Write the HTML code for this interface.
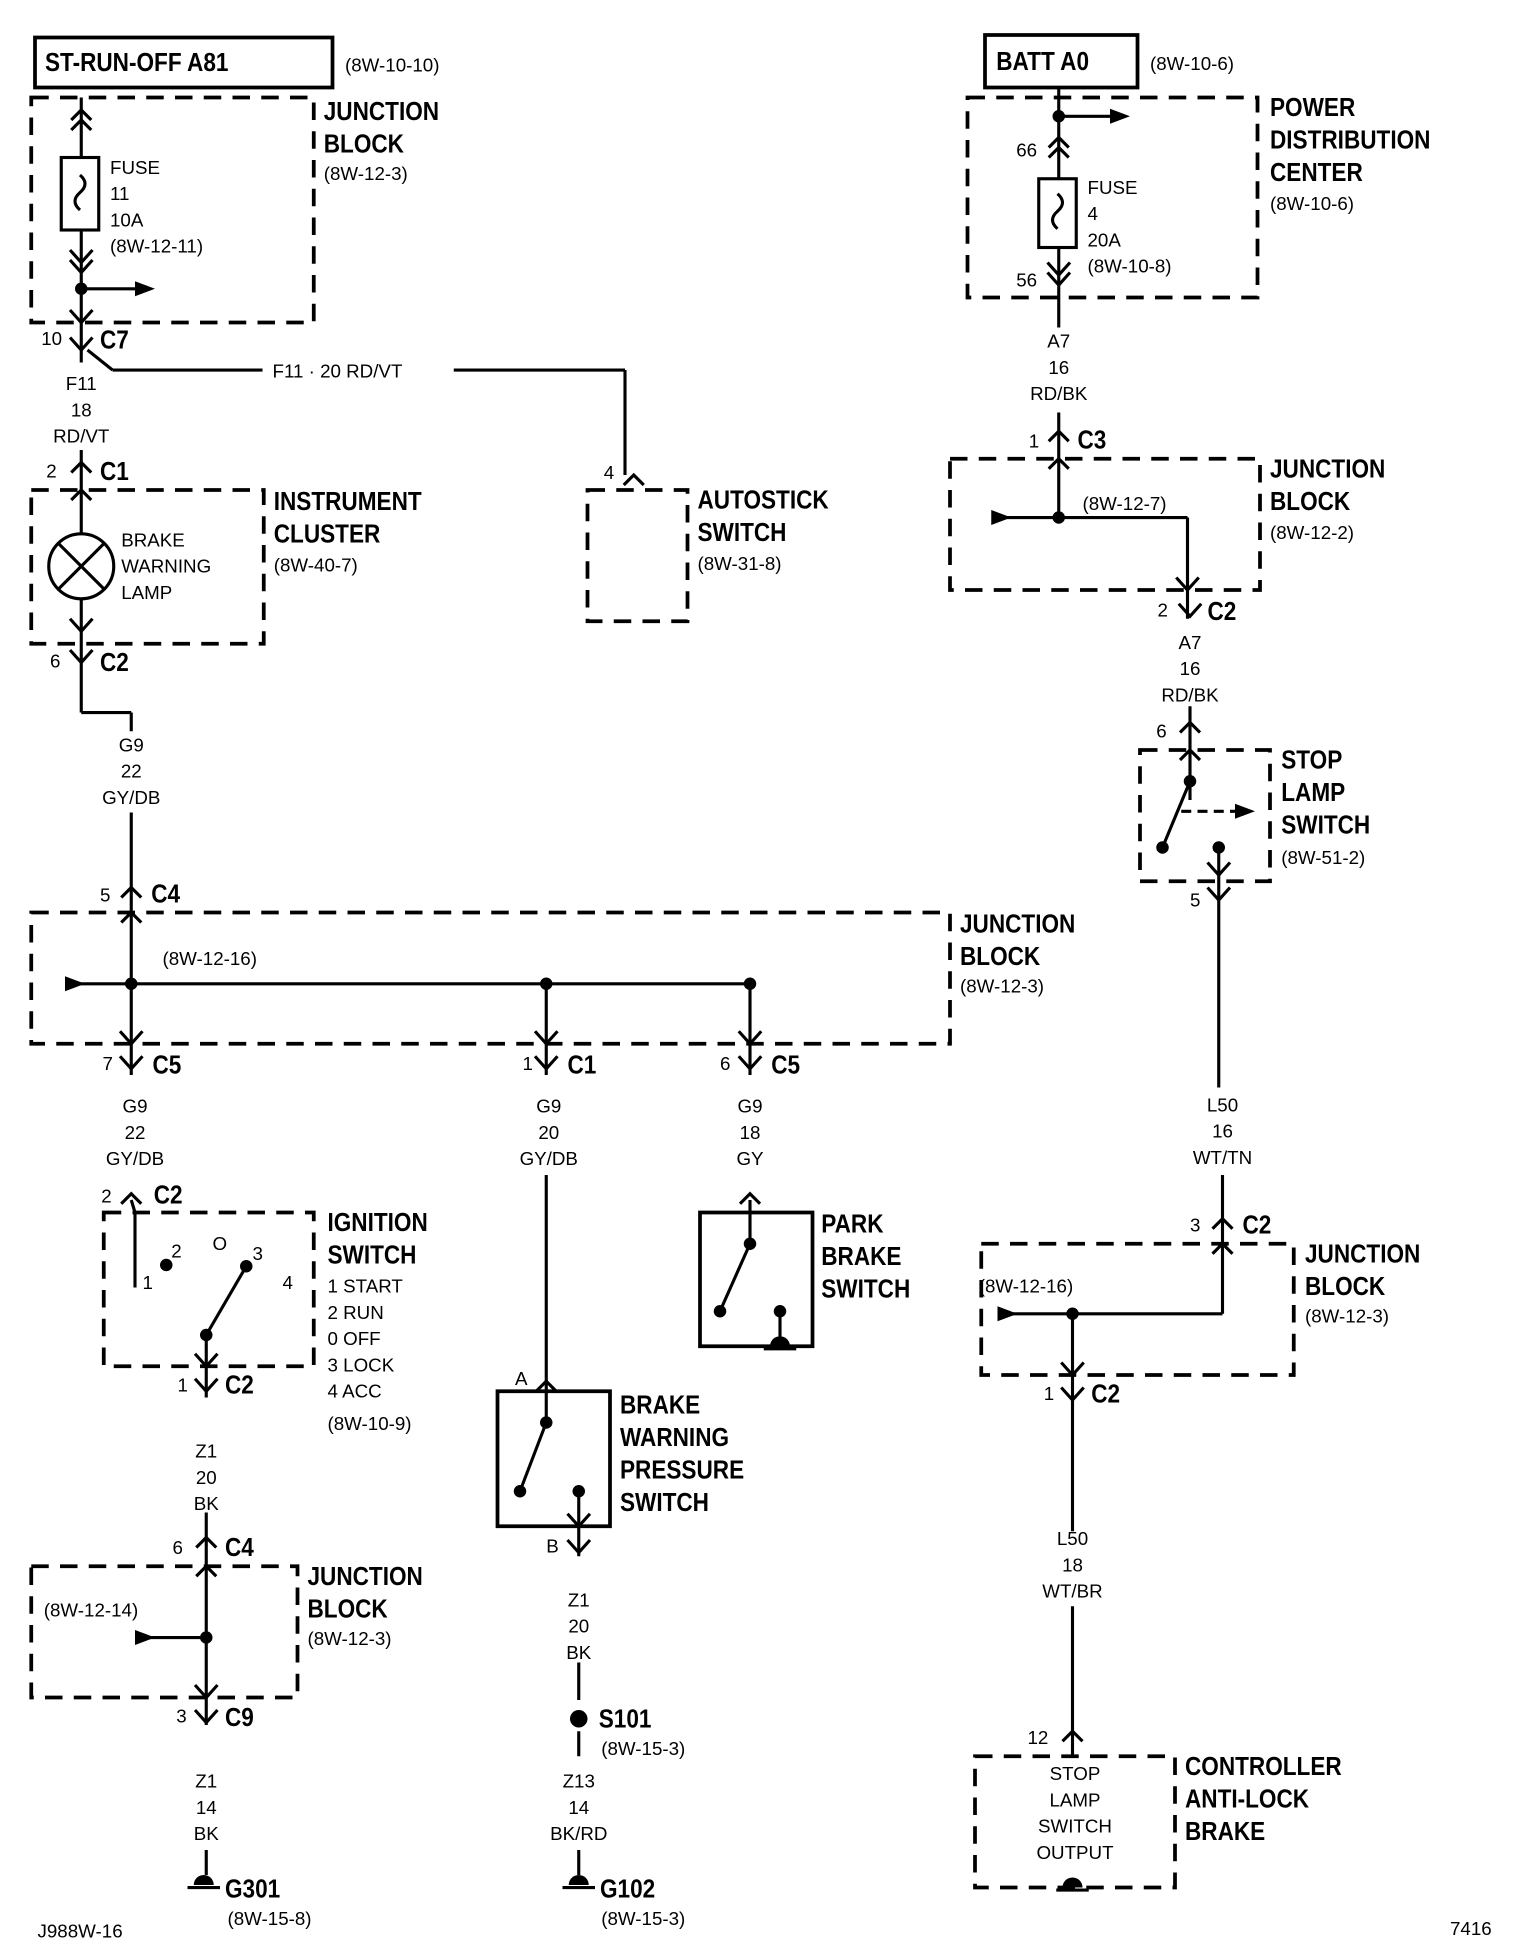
<!DOCTYPE html>
<html><head><meta charset="utf-8"><style>
html,body{margin:0;padding:0;background:#fff;}
svg{display:block}
text{font-family:"Liberation Sans Narrow","Liberation Sans",sans-serif;fill:#000}
.b{font-weight:bold;font-size:21px;transform-box:fill-box;transform-origin:left center;transform:scaleX(0.86)}
.s{font-size:15px}
.c{text-anchor:middle}
</style></head><body>
<svg width="1520" height="1952" viewBox="0 0 1216 1561.6" xmlns="http://www.w3.org/2000/svg">
<defs>
<g id="Y"><polyline points="-9,-10 0,0 9,-10" fill="none" stroke="#000" stroke-width="2.5"/></g>
<g id="V"><polyline points="-8,8 0,0 8,8" fill="none" stroke="#000" stroke-width="2.5"/></g>
<g id="ar"><polygon points="0,-6 16,0 0,6" fill="#000"/></g>
</defs>
<g stroke="#000" stroke-width="2.5" fill="none">
<rect x="28" y="30" width="238" height="40" stroke-width="3"/>
<rect x="25" y="78" width="226" height="180" stroke-dasharray="14,9" stroke-width="3"/>
<line x1="65" y1="78" x2="65" y2="126"/><rect x="49" y="126" width="30" height="58"/>
<path d="M64,140 q8,7 0,14 q-8,7 0,14" />
<line x1="65" y1="184" x2="65" y2="290"/>
<line x1="65" y1="231" x2="110" y2="231"/>
<line x1="70" y1="280" x2="90" y2="296"/><line x1="90" y1="296" x2="210" y2="296"/>
<line x1="363" y1="296" x2="500" y2="296"/><line x1="500" y1="296" x2="500" y2="380"/>
<line x1="65" y1="360" x2="65" y2="392"/>
<rect x="25" y="392" width="186" height="123" stroke-dasharray="14,9" stroke-width="3"/>
<line x1="65" y1="392" x2="65" y2="427"/><circle cx="65" cy="453" r="26"/>
<line x1="47" y1="435" x2="83" y2="471"/><line x1="83" y1="435" x2="47" y2="471"/>
<line x1="65" y1="479" x2="65" y2="570"/><line x1="65" y1="570" x2="105" y2="570"/><line x1="105" y1="570" x2="105" y2="585"/>
<line x1="105" y1="650" x2="105" y2="835"/>
<rect x="470" y="392" width="80" height="105" stroke-dasharray="14,9" stroke-width="3"/>
<rect x="25" y="730" width="735" height="105" stroke-dasharray="14,9" stroke-width="3"/>
<line x1="60" y1="787" x2="600" y2="787"/>
<line x1="437" y1="787" x2="437" y2="860"/><line x1="600" y1="787" x2="600" y2="860"/>
<line x1="105" y1="835" x2="105" y2="860"/>
<line x1="437" y1="940" x2="437" y2="1113"/>
<rect x="83" y="970" width="168" height="123" stroke-dasharray="14,9" stroke-width="3"/>
<line x1="105" y1="960" x2="108" y2="970"/><line x1="108" y1="970" x2="108" y2="1030"/>
<line x1="165" y1="1068" x2="197" y2="1013"/><line x1="165" y1="1068" x2="165" y2="1118"/>
<line x1="165" y1="1210" x2="165" y2="1253"/>
<rect x="25" y="1253" width="213" height="105" stroke-dasharray="14,9" stroke-width="3"/>
<line x1="165" y1="1253" x2="165" y2="1380"/><line x1="120" y1="1310" x2="165" y2="1310"/>
<line x1="165" y1="1480" x2="165" y2="1500"/>
<rect x="398" y="1113" width="90" height="108" stroke-width="3"/>
<line x1="437" y1="1113" x2="437" y2="1138"/><line x1="437" y1="1138" x2="416" y2="1193"/>
<line x1="463" y1="1193" x2="463" y2="1245"/>
<line x1="463" y1="1330" x2="463" y2="1360"/><line x1="463" y1="1385" x2="463" y2="1405"/><line x1="463" y1="1480" x2="463" y2="1500"/>
<rect x="560" y="970" width="90" height="107" stroke-width="3"/>
<line x1="600" y1="960" x2="600" y2="995"/><line x1="600" y1="995" x2="576" y2="1049"/>
<line x1="624" y1="1049" x2="624" y2="1077"/>
<rect x="788" y="28" width="122" height="42" stroke-width="3"/>
<rect x="774" y="78" width="232" height="160" stroke-dasharray="14,9" stroke-width="3"/>
<line x1="847" y1="70" x2="847" y2="143"/><line x1="847" y1="93" x2="890" y2="93"/>
<rect x="831" y="143" width="30" height="55"/>
<path d="M846,155 q8,7 0,14 q-8,7 0,14"/>
<line x1="847" y1="198" x2="847" y2="262"/>
<line x1="847" y1="330" x2="847" y2="414"/>
<rect x="760" y="367" width="248" height="105" stroke-dasharray="14,9" stroke-width="3"/>
<line x1="805" y1="414" x2="950" y2="414"/><line x1="950" y1="414" x2="950" y2="495"/>
<line x1="952" y1="565" x2="952" y2="640"/>
<rect x="912" y="600" width="104" height="105" stroke-dasharray="14,9" stroke-width="3"/>
<line x1="952" y1="625" x2="930" y2="678"/>
<line x1="945" y1="649" x2="990" y2="649" stroke-dasharray="8,5"/>
<line x1="975" y1="678" x2="975" y2="870"/>
<line x1="978" y1="940" x2="978" y2="1051"/>
<rect x="785" y="995" width="250" height="105" stroke-dasharray="14,9" stroke-width="3"/>
<line x1="810" y1="1051" x2="978" y2="1051"/><line x1="858" y1="1051" x2="858" y2="1225"/>
<line x1="858" y1="1285" x2="858" y2="1405"/>
<rect x="780" y="1405" width="160" height="105" stroke-dasharray="14,9" stroke-width="3"/>
</g>
<g fill="#000">
<circle cx="65" cy="231" r="5"/><circle cx="105" cy="787" r="5"/><circle cx="437" cy="787" r="5"/><circle cx="600" cy="787" r="5"/>
<circle cx="133" cy="1012" r="5"/><circle cx="197" cy="1013" r="5"/><circle cx="165" cy="1068" r="5"/>
<circle cx="165" cy="1310" r="5"/><circle cx="437" cy="1138" r="5"/><circle cx="416" cy="1193" r="5"/><circle cx="463" cy="1193" r="5"/>
<circle cx="463" cy="1375" r="7"/><circle cx="600" cy="995" r="5"/><circle cx="576" cy="1049" r="5"/><circle cx="624" cy="1049" r="5"/>
<circle cx="847" cy="93" r="5"/><circle cx="847" cy="414" r="5"/><circle cx="952" cy="625" r="5"/><circle cx="930" cy="678" r="5"/><circle cx="975" cy="678" r="5"/>
<circle cx="858" cy="1051" r="5"/>
<path d="M155,1508 a8,8 0 0 1 16,0z"/><path d="M455,1508 a8,8 0 0 1 16,0z"/><path d="M616,1077 a8,8 0 0 1 16,0z"/><path d="M850,1510 a8,8 0 0 1 16,0z"/>
</g>
<g stroke="#000" stroke-width="2.5">
<line x1="150" y1="1510" x2="176" y2="1510"/><line x1="450" y1="1510" x2="476" y2="1510"/><line x1="611" y1="1079" x2="637" y2="1079"/><line x1="845" y1="1512" x2="871" y2="1512"/>
</g>
<use href="#ar" x="108" y="231"/><use href="#ar" x="52" y="787"/><use href="#ar" x="108" y="1310"/>
<use href="#ar" x="888" y="93"/><use href="#ar" x="793" y="414"/><use href="#ar" x="988" y="649"/><use href="#ar" x="798" y="1051"/>
<use href="#V" x="65" y="88"/><use href="#V" x="65" y="96"/>
<use href="#Y" x="65" y="210"/><use href="#Y" x="65" y="218"/><use href="#Y" x="65" y="258"/>
<use href="#Y" x="65" y="280"/>
<use href="#V" x="65" y="370"/><use href="#V" x="65" y="392"/>
<use href="#Y" x="65" y="505"/><use href="#Y" x="65" y="530"/>
<use href="#V" x="507" y="380"/>
<use href="#V" x="105" y="710"/><use href="#V" x="105" y="730"/>
<use href="#Y" x="105" y="835"/><use href="#Y" x="437" y="835"/><use href="#Y" x="600" y="835"/>
<use href="#Y" x="105" y="855"/><use href="#Y" x="437" y="855"/><use href="#Y" x="600" y="855"/>
<use href="#V" x="105" y="955"/><use href="#V" x="600" y="955"/>
<use href="#Y" x="165" y="1093"/><use href="#Y" x="165" y="1113"/>
<use href="#V" x="165" y="1230"/><use href="#V" x="165" y="1253"/>
<use href="#Y" x="165" y="1358"/><use href="#Y" x="165" y="1378"/>
<use href="#V" x="437" y="1105"/><use href="#Y" x="463" y="1221"/><use href="#Y" x="463" y="1242"/>
<use href="#V" x="847" y="110"/><use href="#V" x="847" y="118"/>
<use href="#Y" x="847" y="220"/><use href="#Y" x="847" y="228"/>
<use href="#V" x="847" y="345"/><use href="#V" x="847" y="367"/>
<use href="#Y" x="950" y="472"/><use href="#Y" x="952" y="493"/>
<use href="#V" x="952" y="578"/><use href="#V" x="952" y="600"/>
<use href="#Y" x="975" y="700"/><use href="#Y" x="975" y="720"/>
<use href="#V" x="978" y="975"/><use href="#V" x="978" y="995"/>
<use href="#Y" x="858" y="1100"/><use href="#Y" x="858" y="1120"/>
<use href="#V" x="858" y="1385"/>
<text class="b" x="36" y="57">ST-RUN-OFF A81</text><text class="s" x="276" y="57">(8W-10-10)</text>
<text class="b" x="259" y="96">JUNCTION</text><text class="b" x="259" y="122">BLOCK</text><text class="s" x="259" y="144">(8W-12-3)</text>
<text class="s" x="88" y="139">FUSE</text><text class="s" x="88" y="160">11</text><text class="s" x="88" y="181">10A</text><text class="s" x="88" y="202">(8W-12-11)</text>
<text class="s" x="33" y="276">10</text><text class="b" x="80" y="279">C7</text>
<text class="s" x="218" y="302">F11 · 20 RD/VT</text>
<text class="s c" x="65" y="312">F11</text><text class="s c" x="65" y="333">18</text><text class="s c" x="65" y="354">RD/VT</text>
<text class="s" x="37" y="382">2</text><text class="b" x="80" y="384">C1</text>
<text class="s" x="97" y="437">BRAKE</text><text class="s" x="97" y="458">WARNING</text><text class="s" x="97" y="479">LAMP</text>
<text class="b" x="219" y="408">INSTRUMENT</text><text class="b" x="219" y="434">CLUSTER</text><text class="s" x="219" y="457">(8W-40-7)</text>
<text class="s" x="40" y="534">6</text><text class="b" x="80" y="537">C2</text>
<text class="s c" x="105" y="601">G9</text><text class="s c" x="105" y="622">22</text><text class="s c" x="105" y="643">GY/DB</text>
<text class="s" x="483" y="383">4</text>
<text class="b" x="558" y="407">AUTOSTICK</text><text class="b" x="558" y="433">SWITCH</text><text class="s" x="558" y="456">(8W-31-8)</text>
<text class="s" x="80" y="721">5</text><text class="b" x="121" y="722">C4</text>
<text class="s" x="130" y="772">(8W-12-16)</text>
<text class="b" x="768" y="746">JUNCTION</text><text class="b" x="768" y="772">BLOCK</text><text class="s" x="768" y="794">(8W-12-3)</text>
<text class="s" x="82" y="856">7</text><text class="b" x="122" y="859">C5</text>
<text class="s" x="418" y="856">1</text><text class="b" x="454" y="859">C1</text>
<text class="s" x="576" y="856">6</text><text class="b" x="617" y="859">C5</text>
<text class="s c" x="108" y="890">G9</text><text class="s c" x="108" y="911">22</text><text class="s c" x="108" y="932">GY/DB</text>
<text class="s c" x="439" y="890">G9</text><text class="s c" x="439" y="911">20</text><text class="s c" x="439" y="932">GY/DB</text>
<text class="s c" x="600" y="890">G9</text><text class="s c" x="600" y="911">18</text><text class="s c" x="600" y="932">GY</text>
<text class="s" x="81" y="962">2</text><text class="b" x="123" y="963">C2</text>
<text class="s" x="137" y="1006">2</text><text class="s" x="170" y="1000">O</text><text class="s" x="202" y="1008">3</text><text class="s" x="226" y="1031">4</text><text class="s" x="114" y="1031">1</text>
<text class="b" x="262" y="985">IGNITION</text><text class="b" x="262" y="1011">SWITCH</text>
<text class="s" x="262" y="1034">1 START</text><text class="s" x="262" y="1055">2 RUN</text><text class="s" x="262" y="1076">0 OFF</text><text class="s" x="262" y="1097">3 LOCK</text><text class="s" x="262" y="1118">4 ACC</text><text class="s" x="262" y="1144">(8W-10-9)</text>
<text class="s" x="142" y="1113">1</text><text class="b" x="180" y="1115">C2</text>
<text class="s c" x="165" y="1166">Z1</text><text class="s c" x="165" y="1187">20</text><text class="s c" x="165" y="1208">BK</text>
<text class="s" x="138" y="1243">6</text><text class="b" x="180" y="1245">C4</text>
<text class="s" x="35" y="1293">(8W-12-14)</text>
<text class="b" x="246" y="1268">JUNCTION</text><text class="b" x="246" y="1294">BLOCK</text><text class="s" x="246" y="1316">(8W-12-3)</text>
<text class="s" x="141" y="1378">3</text><text class="b" x="180" y="1381">C9</text>
<text class="s c" x="165" y="1430">Z1</text><text class="s c" x="165" y="1451">14</text><text class="s c" x="165" y="1472">BK</text>
<text class="b" x="180" y="1518">G301</text><text class="s" x="182" y="1540">(8W-15-8)</text>
<text class="s" x="412" y="1108">A</text><text class="s" x="437" y="1242">B</text>
<text class="b" x="496" y="1131">BRAKE</text><text class="b" x="496" y="1157">WARNING</text><text class="b" x="496" y="1183">PRESSURE</text><text class="b" x="496" y="1209">SWITCH</text>
<text class="s c" x="463" y="1285">Z1</text><text class="s c" x="463" y="1306">20</text><text class="s c" x="463" y="1327">BK</text>
<text class="b" x="479" y="1382">S101</text><text class="s" x="481" y="1404">(8W-15-3)</text>
<text class="s c" x="463" y="1430">Z13</text><text class="s c" x="463" y="1451">14</text><text class="s c" x="463" y="1472">BK/RD</text>
<text class="b" x="480" y="1518">G102</text><text class="s" x="481" y="1540">(8W-15-3)</text>
<text class="b" x="657" y="986">PARK</text><text class="b" x="657" y="1012">BRAKE</text><text class="b" x="657" y="1038">SWITCH</text>
<text class="b" x="797" y="56">BATT A0</text><text class="s" x="920" y="56">(8W-10-6)</text>
<text class="b" x="1016" y="93">POWER</text><text class="b" x="1016" y="119">DISTRIBUTION</text><text class="b" x="1016" y="145">CENTER</text><text class="s" x="1016" y="168">(8W-10-6)</text>
<text class="s" x="813" y="125">66</text><text class="s" x="813" y="229">56</text>
<text class="s" x="870" y="155">FUSE</text><text class="s" x="870" y="176">4</text><text class="s" x="870" y="197">20A</text><text class="s" x="870" y="218">(8W-10-8)</text>
<text class="s c" x="847" y="278">A7</text><text class="s c" x="847" y="299">16</text><text class="s c" x="847" y="320">RD/BK</text>
<text class="s" x="823" y="358">1</text><text class="b" x="862" y="359">C3</text>
<text class="s" x="866" y="408">(8W-12-7)</text>
<text class="b" x="1016" y="382">JUNCTION</text><text class="b" x="1016" y="408">BLOCK</text><text class="s" x="1016" y="431">(8W-12-2)</text>
<text class="s" x="926" y="493">2</text><text class="b" x="966" y="496">C2</text>
<text class="s c" x="952" y="519">A7</text><text class="s c" x="952" y="540">16</text><text class="s c" x="952" y="561">RD/BK</text>
<text class="s" x="925" y="590">6</text>
<text class="b" x="1025" y="615">STOP</text><text class="b" x="1025" y="641">LAMP</text><text class="b" x="1025" y="667">SWITCH</text><text class="s" x="1025" y="691">(8W-51-2)</text>
<text class="s" x="952" y="725">5</text>
<text class="s c" x="978" y="889">L50</text><text class="s c" x="978" y="910">16</text><text class="s c" x="978" y="931">WT/TN</text>
<text class="s" x="952" y="985">3</text><text class="b" x="994" y="987">C2</text>
<text class="s" x="783" y="1034">(8W-12-16)</text>
<text class="b" x="1044" y="1010">JUNCTION</text><text class="b" x="1044" y="1036">BLOCK</text><text class="s" x="1044" y="1058">(8W-12-3)</text>
<text class="s" x="835" y="1120">1</text><text class="b" x="873" y="1122">C2</text>
<text class="s c" x="858" y="1236">L50</text><text class="s c" x="858" y="1257">18</text><text class="s c" x="858" y="1278">WT/BR</text>
<text class="s" x="822" y="1395">12</text>
<text class="s c" x="860" y="1424">STOP</text><text class="s c" x="860" y="1445">LAMP</text><text class="s c" x="860" y="1466">SWITCH</text><text class="s c" x="860" y="1487">OUTPUT</text>
<text class="b" x="948" y="1420">CONTROLLER</text><text class="b" x="948" y="1446">ANTI-LOCK</text><text class="b" x="948" y="1472">BRAKE</text>
<text class="s" x="30" y="1550">J988W-16</text><text class="s" x="1160" y="1548">7416</text>
</svg>
</body></html>
